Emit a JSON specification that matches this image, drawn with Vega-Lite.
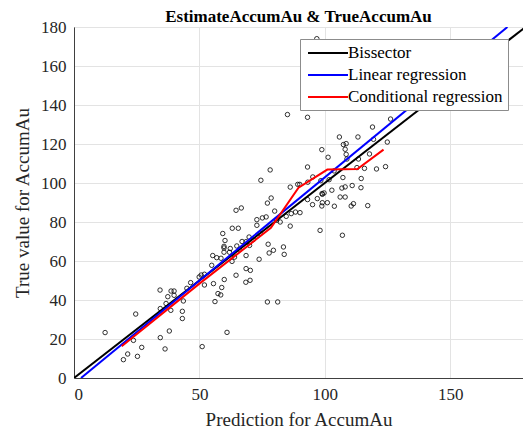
{
  "$schema": "https://vega.github.io/schema/vega-lite/v6.json",
  "width": 449,
  "height": 351,
  "autosize": {"type": "none"},
  "padding": {"left": 74, "top": 27, "right": 0, "bottom": 59},
  "background": "white",
  "title": {
    "text": "EstimateAccumAu & TrueAccumAu",
    "font": "Liberation Serif",
    "fontSize": 17,
    "fontWeight": "bold",
    "color": "#000000",
    "anchor": "middle",
    "offset": -8
  },
  "config": {
    "view": {"stroke": "#404040", "strokeWidth": 1},
    "axis": {
      "labelFont": "Liberation Serif",
      "titleFont": "Liberation Serif",
      "labelFontSize": 17,
      "titleFontSize": 19,
      "titleFontWeight": "normal",
      "labelColor": "#262626",
      "titleColor": "#262626",
      "domainColor": "#404040",
      "gridColor": "#e3e3e3",
      "gridWidth": 1,
      "ticks": false,
      "tickSize": 0
    }
  },
  "datasets": {
    "pts": [
      {"x":12.4,"y":23.3},{"x":24.6,"y":32.8},{"x":23.7,"y":19.3},{"x":21.4,"y":12.3},{"x":19.7,"y":9.4},
      {"x":25.3,"y":11.1},{"x":27.0,"y":15.7},{"x":34.4,"y":20.7},{"x":36.3,"y":14.9},{"x":38.0,"y":24.1},
      {"x":34.4,"y":35.6},{"x":38.6,"y":34.7},{"x":43.2,"y":34.2},{"x":43.2,"y":30.5},{"x":36.7,"y":38.2},
      {"x":51.1,"y":16.1},{"x":56.2,"y":39.2},{"x":61.0,"y":23.4},{"x":43.6,"y":39.5},{"x":34.3,"y":45.1},
      {"x":38.7,"y":44.6},{"x":39.9,"y":44.6},{"x":37.4,"y":41.7},{"x":39.9,"y":42.4},{"x":46.5,"y":48.9},
      {"x":49.9,"y":51.8},{"x":50.7,"y":52.8},{"x":52.0,"y":53.2},{"x":52.0,"y":47.7},{"x":55.6,"y":48.4},
      {"x":58.9,"y":46.4},{"x":58.5,"y":42.6},{"x":59.9,"y":50.5},{"x":64.6,"y":52.7},{"x":54.9,"y":57.8},
      {"x":55.3,"y":62.8},{"x":56.9,"y":61.7},{"x":58.6,"y":61.4},{"x":59.8,"y":64.5},{"x":59.8,"y":66.7},
      {"x":60.2,"y":70.5},{"x":59.3,"y":74.1},{"x":62.3,"y":66.4},{"x":63.0,"y":59.8},{"x":63.1,"y":76.8},
      {"x":65.5,"y":76.8},{"x":64.6,"y":86.0},{"x":66.7,"y":87.2},{"x":64.9,"y":67.7},{"x":68.6,"y":62.8},
      {"x":68.6,"y":56.1},{"x":68.5,"y":49.1},{"x":70.3,"y":55.2},{"x":70.2,"y":50.1},{"x":68.6,"y":69.9},
      {"x":69.8,"y":72.3},{"x":72.9,"y":81.2},{"x":72.9,"y":78.3},{"x":74.2,"y":74.1},{"x":73.8,"y":60.9},
      {"x":57.4,"y":43.3},{"x":75.1,"y":82.1},{"x":76.6,"y":82.6},{"x":78.2,"y":106.7},{"x":74.5,"y":101.4},
      {"x":77.1,"y":89.7},{"x":78.6,"y":92.3},{"x":80.0,"y":85.6},{"x":80.8,"y":80.9},{"x":82.2,"y":80.0},
      {"x":84.6,"y":82.9},{"x":86.6,"y":84.3},{"x":88.3,"y":85.1},{"x":90.1,"y":84.8},{"x":86.2,"y":77.9},
      {"x":86.2,"y":97.9},{"x":89.2,"y":99.3},{"x":90.0,"y":99.3},{"x":93.2,"y":100.4},{"x":95.2,"y":103.1},
      {"x":93.1,"y":91.5},{"x":95.1,"y":88.9},{"x":97.0,"y":92.0},{"x":99.0,"y":94.2},{"x":101.0,"y":89.9},
      {"x":99.0,"y":89.9},{"x":98.8,"y":88.2},{"x":102.8,"y":96.3},{"x":103.8,"y":88.1},{"x":98.1,"y":75.7},
      {"x":77.4,"y":68.6},{"x":79.5,"y":65.5},{"x":77.8,"y":64.1},{"x":83.5,"y":67.2},{"x":83.8,"y":63.4},
      {"x":77.1,"y":39.0},{"x":81.2,"y":39.0},{"x":85.1,"y":135.1},{"x":93.1,"y":133.7},{"x":93.1,"y":108.2},
      {"x":98.8,"y":117.1},{"x":101.3,"y":113.2},{"x":98.4,"y":101.2},{"x":101.7,"y":101.7},{"x":98.9,"y":94.6},
      {"x":99.7,"y":94.9},{"x":105.8,"y":123.6},{"x":107.4,"y":119.7},{"x":108.5,"y":120.2},{"x":108.1,"y":117.3},
      {"x":108.5,"y":114.7},{"x":108.8,"y":112.3},{"x":107.2,"y":102.8},{"x":106.8,"y":97.4},{"x":108.1,"y":98.0},
      {"x":106.1,"y":92.8},{"x":108.1,"y":92.8},{"x":107.0,"y":73.2},{"x":113.2,"y":123.6},{"x":113.4,"y":112.3},
      {"x":115.8,"y":107.5},{"x":114.5,"y":102.3},{"x":110.9,"y":98.7},{"x":114.4,"y":97.6},{"x":111.4,"y":89.4},
      {"x":110.5,"y":88.2},{"x":117.1,"y":88.4},{"x":119.0,"y":128.7},{"x":119.4,"y":122.4},{"x":117.8,"y":114.9},
      {"x":120.6,"y":107.2},{"x":124.2,"y":108.4},{"x":124.9,"y":121.0},{"x":126.2,"y":132.8},{"x":96.8,"y":174.0},
      {"x":112.8,"y":107.9},{"x":103.7,"y":106.2},{"x":62.0,"y":64.5},{"x":66.0,"y":66.0},{"x":67.0,"y":70.0},
      {"x":70.0,"y":68.0},{"x":71.5,"y":71.0},{"x":64.0,"y":62.0},{"x":59.8,"y":67.5},{"x":45.0,"y":46.0}
    ],
    "lines": [
      {"series":"Bissector","x":0,"y":0,"o":1},
      {"series":"Bissector","x":180,"y":180,"o":2},
      {"series":"Linear regression","x":2.8,"y":0,"o":1},
      {"series":"Linear regression","x":172.8,"y":180,"o":2},
      {"series":"Conditional regression","x":19,"y":16.3,"o":1},
      {"series":"Conditional regression","x":50,"y":48.4,"o":2},
      {"series":"Conditional regression","x":78.5,"y":77,"o":3},
      {"series":"Conditional regression","x":89.5,"y":97.6,"o":4},
      {"series":"Conditional regression","x":101,"y":106.9,"o":5},
      {"series":"Conditional regression","x":113,"y":107.2,"o":6},
      {"series":"Conditional regression","x":123.4,"y":117.1,"o":7}
    ]
  },
  "encoding": {
    "x": {
      "field": "x", "type": "quantitative",
      "scale": {"domain": [0, 179], "nice": false, "zero": false},
      "axis": {"values": [0, 50, 100, 150], "title": "Prediction for AccumAu", "labelPadding": 8, "titlePadding": 8, "grid": true}
    },
    "y": {
      "field": "y", "type": "quantitative",
      "scale": {"domain": [0, 180], "nice": false, "zero": false},
      "axis": {"values": [0, 20, 40, 60, 80, 100, 120, 140, 160, 180], "title": "True value for AccumAu", "labelPadding": 8, "titlePadding": 8, "grid": true}
    }
  },
  "layer": [
    {
      "data": {"name": "pts"},
      "mark": {"type": "point", "shape": "circle", "filled": false, "size": 20, "stroke": "#000000", "strokeWidth": 0.8, "opacity": 1}
    },
    {
      "data": {"name": "lines"},
      "transform": [{"filter": "datum.series === 'Bissector'"}],
      "mark": {"type": "line", "strokeWidth": 2, "clip": true},
      "encoding": {
        "order": {"field": "o", "type": "quantitative"},
        "color": {
          "field": "series", "type": "nominal",
          "scale": {"domain": ["Bissector", "Linear regression", "Conditional regression"], "range": ["#000000", "#0000ff", "#ff0000"]},
          "legend": {
            "title": null,
            "orient": "none",
            "legendX": 226,
            "legendY": 12,
            "symbolType": "M-2.5,0H2.5",
            "symbolSize": 256,
            "symbolStrokeWidth": 2,
            "symbolOffset": 14,
            "labelOffset": 11,
            "labelFont": "Liberation Serif",
            "labelFontSize": 17,
            "labelColor": "#000000",
            "rowPadding": 5,
            "padding": 5,
            "fillColor": "#ffffff",
            "strokeColor": "#8c8c8c",
            "labelLimit": 300
          }
        }
      }
    },
    {
      "data": {"name": "lines"},
      "transform": [{"filter": "datum.series === 'Linear regression'"}],
      "mark": {"type": "line", "strokeWidth": 2, "clip": true},
      "encoding": {
        "order": {"field": "o", "type": "quantitative"},
        "color": {"field": "series", "type": "nominal"}
      }
    },
    {
      "data": {"name": "lines"},
      "transform": [{"filter": "datum.series === 'Conditional regression'"}],
      "mark": {"type": "line", "strokeWidth": 2, "clip": true},
      "encoding": {
        "order": {"field": "o", "type": "quantitative"},
        "color": {"field": "series", "type": "nominal"}
      }
    }
  ]
}
